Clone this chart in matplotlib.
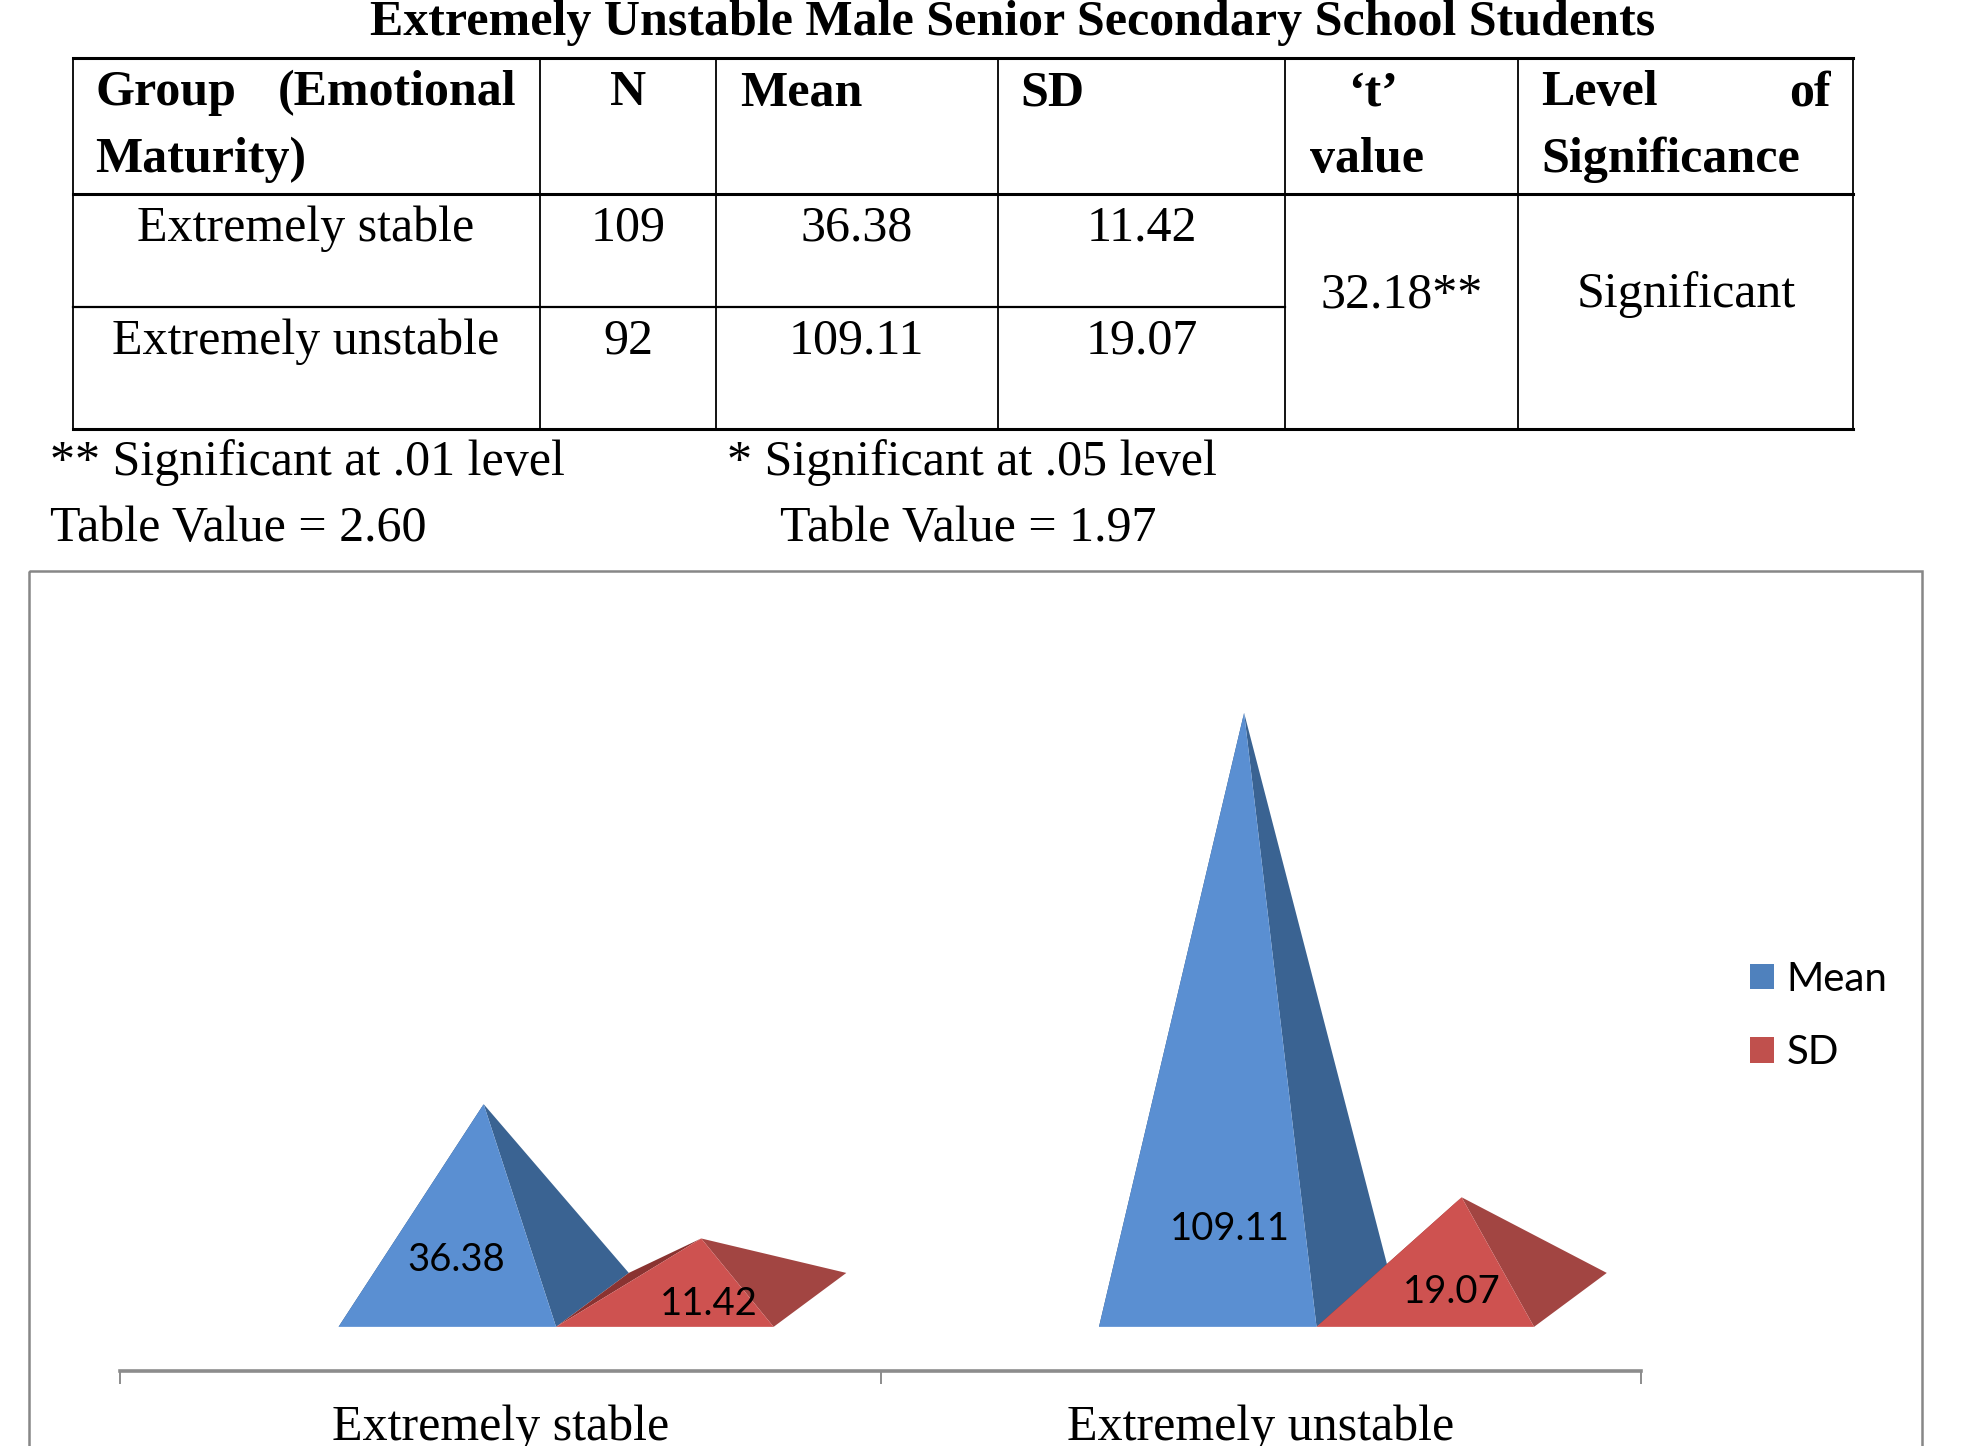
"""
Emotional maturity: extremely stable vs extremely unstable male senior secondary
school students. Table of N / Mean / SD / t on top, 3-D style pyramid chart below.
"""
import matplotlib
matplotlib.use("Agg")
import matplotlib.pyplot as plt
from matplotlib.patches import Polygon, Patch, Rectangle

# ---------------- data ----------------
TITLE = "Extremely Unstable Male Senior Secondary School Students"
groups = ["Extremely stable", "Extremely unstable"]
n_values = [109, 92]
means = [36.38, 109.11]
sds = [11.42, 19.07]
t_value = "32.18**"
significance = "Significant"
series = ["Mean", "SD"]

# ---------------- layout (reference frame, px, y down) ----------------
REF_W, REF_H = 1568, 1153
SERIF = "Liberation Serif"
SANS = "Lato"
FS = 36

C_FRONT = {"Mean": "#5A8FD2", "SD": "#CE5250"}
C_SIDE = {"Mean": "#3A6392", "SD": "#A24542"}
C_LEFT = {"Mean": "#2F527C", "SD": "#8A3331"}
C_LEGEND = {"Mean": "#4F81BD", "SD": "#C0504D"}

fig = plt.figure(figsize=(19.66, 14.46), dpi=100)
page = fig.add_axes([0, 0, 1, 1])
page.set_xlim(0, REF_W)
page.set_ylim(REF_H, 0)
page.axis("off")


def txt(x, y, s, ha="left", bold=False, size=FS):
    page.text(x, y, s, ha=ha, va="baseline", fontsize=size, family=SERIF,
              fontweight="bold" if bold else "normal", color="black")


# ---------------- title + table ----------------
txt(808, 28, TITLE, ha="center", bold=True, size=36)

col_x = [58, 431, 571, 796, 1025, 1211, 1478]
y_top, y_head, y_mid, y_bot = 46, 155, 245, 342
for y in (y_top, y_head, y_bot):
    page.plot([col_x[0], col_x[-1]], [y, y], color="black", lw=2.2)
page.plot([col_x[0], col_x[4]], [y_mid, y_mid], color="black", lw=1.6)
for x in col_x:
    page.plot([x, x], [y_top, y_bot], color="black", lw=1.3)

# header
txt(76, 84, "Group", bold=True)
txt(412, 84, "(Emotional", ha="right", bold=True)
txt(76, 137, "Maturity)", bold=True)
txt(501, 84, "N", ha="center", bold=True)
txt(590, 84, "Mean", bold=True)
txt(814, 84, "SD", bold=True)
txt(1095, 84, "\u2018t\u2019", ha="center", bold=True)
txt(1045, 137, "value", bold=True)
txt(1229, 84, "Level", bold=True)
txt(1460, 84, "of", ha="right", bold=True)
txt(1229, 137, "Significance", bold=True)

# body rows
for i, base in enumerate([192, 282]):
    txt(244, base, groups[i], ha="center")
    txt(501, base, f"{n_values[i]}", ha="center")
    txt(683, base, f"{means[i]:.2f}", ha="center")
    txt(911, base, f"{sds[i]:.2f}", ha="center")
txt(1118, 245, t_value, ha="center")
txt(1345, 245, significance, ha="center")

# footnotes
txt(40, 379, "** Significant at .01 level")
txt(580, 379, "* Significant at .05 level")
txt(40, 431, "Table Value = 2.60")
txt(622, 431, "Table Value = 1.97")

# chart frame
page.add_patch(Rectangle((23, 455), 1533 - 23, REF_H, fill=False,
                         edgecolor="#878787", lw=1.8))

# ---------------- pyramid chart ----------------
AX_L, AX_R, AX_B, AX_T = 96, 1309, 1093, 470
ZERO_Y = 1036.5          # px of value 0 (base centre)
PX_PER_UNIT = 4.29
cat_px = (AX_R - AX_L) / len(groups)

ax = fig.add_axes([AX_L / REF_W, 1 - AX_B / REF_H,
                   (AX_R - AX_L) / REF_W, (AX_B - AX_T) / REF_H])
ax.set_facecolor("none")
ax.set_xlim(0, len(groups))
ax.set_ylim(-(AX_B - ZERO_Y) / PX_PER_UNIT, (ZERO_Y - AX_T) / PX_PER_UNIT)

W = 173.5 / cat_px            # front width of one pyramid
OFF = (270 - AX_L) / cat_px   # left gap inside a category
DX = 58 / cat_px              # depth (x)
DY = 43 / PX_PER_UNIT         # depth (y)

# label nudges (x in category units from front centre, y in value units)
LABEL_NUDGE = {("Mean", 0): (0.012, 7.4), ("SD", 0): (0.058, -0.8),
               ("Mean", 1): (0.029, 13.2), ("SD", 1): (0.035, 1.5)}


def pyramid(x0, value, name):
    fl, fr = (x0, -DY / 2), (x0 + W, -DY / 2)
    bl, br = (x0 + DX, DY / 2), (x0 + W + DX, DY / 2)
    apex = (x0 + W / 2 + DX / 2, value)
    ax.add_patch(Polygon([fl, bl, apex], closed=True, facecolor=C_LEFT[name], lw=0))
    ax.add_patch(Polygon([fr, br, apex], closed=True, facecolor=C_SIDE[name], lw=0))
    ax.add_patch(Polygon([fl, fr, apex], closed=True, facecolor=C_FRONT[name], lw=0))


for i in range(len(groups)):
    for s, (name, vals) in enumerate(zip(series, [means, sds])):
        x0 = i + OFF + s * W
        pyramid(x0, vals[i], name)
    for s, (name, vals) in enumerate(zip(series, [means, sds])):
        x0 = i + OFF + s * W
        nx, ny = LABEL_NUDGE[(name, i)]
        ax.text(x0 + W / 2 + nx, ny, f"{vals[i]:.2f}", ha="center", va="center",
                fontsize=27.5, family=SANS, color="black", zorder=5)

for side in ("top", "right", "left"):
    ax.spines[side].set_visible(False)
ax.spines["bottom"].set_color("#8C8C8C")
ax.spines["bottom"].set_linewidth(2.6)
ax.set_yticks([])
ax.set_xticks(range(len(groups) + 1))
ax.set_xticklabels([])
ax.tick_params(axis="x", which="major", direction="out", length=9,
               width=1.4, color="#8C8C8C")
ax.set_xticks([i + 0.5 for i in range(len(groups))], minor=True)
ax.set_xticklabels(groups, minor=True, fontsize=FS, family=SERIF)
ax.tick_params(axis="x", which="minor", length=0, pad=24)

fig.legend(handles=[Patch(facecolor=C_LEGEND[n]) for n in series], labels=series,
           loc="center left", bbox_to_anchor=(1367 / REF_W, 1 - 810 / REF_H),
           frameon=False, prop={"family": SANS, "size": 29},
           handlelength=0.6, handleheight=0.6, handletextpad=0.3,
           labelspacing=0.9)

fig.savefig("out.png", dpi=100)
